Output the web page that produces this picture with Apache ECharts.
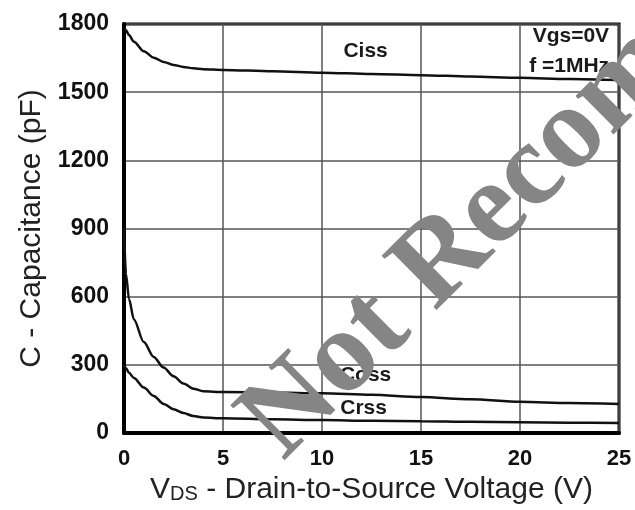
<!DOCTYPE html>
<html>
<head>
<meta charset="utf-8">
<script src="https://cdn.jsdelivr.net/npm/echarts@6/dist/echarts.min.js"></script>
<style>
  html, body { margin: 0; padding: 0; background: #fff; }
  #chart { width: 635px; height: 510px; }
</style>
</head>
<body>
<div id="chart"></div>
<script>
// values
const vds  = [0, 0.1, 0.25, 0.5, 1, 1.5, 2, 2.5, 3, 3.5, 4, 5, 7.5, 10, 12.5, 15, 17.5, 20, 22.5, 25];
const ciss = [1785, 1772, 1752, 1722, 1680, 1652, 1633, 1620, 1611, 1605, 1601, 1598, 1592, 1586, 1580, 1575, 1569, 1563, 1558, 1553];
const coss = [900, 700, 590, 500, 400, 335, 288, 250, 218, 195, 184, 180, 178, 175, 168, 158, 148, 137, 132, 128];
const crss = [300, 285, 265, 242, 200, 163, 128, 105, 88, 75, 68, 65, 60, 57, 54, 52, 49, 47, 45, 44];
const xTicks = [0, 5, 10, 15, 20, 25];
const yTicks = [0, 300, 600, 900, 1200, 1500, 1800];

const font = 'Liberation Sans';
const chart = echarts.init(document.getElementById('chart'));

const zip = function (ys) {
    return vds.map(function (x, i) { return [x, ys[i]]; });
};

// invisible point carrying a text label at data coordinates
const curveLabel = function (text, x, y, align) {
    return {
        coord: [x, y],
        symbol: 'circle',
        symbolSize: 1,
        itemStyle: { color: 'rgba(0,0,0,0)' },
        label: {
            show: true,
            formatter: text,
            position: 'inside',
            align: align || 'center',
            verticalAlign: 'middle',
            fontFamily: font,
            fontWeight: 'bold',
            fontSize: 21,
            color: '#1a1a1a'
        }
    };
};

const lineSeries = function (name, ys, labels) {
    return {
        name: name,
        type: 'line',
        data: zip(ys),
        showSymbol: false,
        smooth: 0.3,
        smoothMonotone: 'x',
        lineStyle: { color: '#111', width: 2.5 },
        markPoint: { silent: true, data: labels }
    };
};

chart.setOption({
    animation: false,
    grid: {
        left: 124, right: 16, top: 24, bottom: 77,
        show: true, borderColor: '#000', borderWidth: 3,
        outerBoundsMode: 'none'
    },
    xAxis: {
        type: 'value',
        min: xTicks[0], max: xTicks[xTicks.length - 1], interval: 5,
        name: '{v|V}{ds|DS}{v| - Drain-to-Source Voltage (V)}',
        nameLocation: 'middle',
        nameGap: 32,
        nameTextStyle: {
            rich: {
                v: { fontFamily: font, fontSize: 30, color: '#222', verticalAlign: 'bottom', lineHeight: 32 },
                ds: { fontFamily: font, fontSize: 20, color: '#222', verticalAlign: 'bottom', lineHeight: 32 }
            }
        },
        axisLine: { show: true, onZero: false, lineStyle: { color: '#000', width: 4 } },
        axisTick: { show: false },
        axisLabel: { margin: 15, fontFamily: font, fontWeight: 'bold', fontSize: 22, color: '#111' },
        splitLine: { show: true, lineStyle: { color: '#555', width: 1.5 } }
    },
    yAxis: {
        type: 'value',
        min: yTicks[0], max: yTicks[yTicks.length - 1], interval: 300,
        name: 'C - Capacitance (pF)',
        nameLocation: 'middle',
        nameGap: 72,
        nameTextStyle: { fontFamily: font, fontSize: 30, color: '#222' },
        axisLine: { show: true, onZero: false, lineStyle: { color: '#000', width: 4 } },
        axisTick: { show: false },
        axisLabel: {
            margin: 15, fontFamily: font, fontWeight: 'bold', fontSize: 23, color: '#111',
            formatter: function (v) { return String(v); }
        },
        splitLine: { show: true, lineStyle: { color: '#555', width: 1.5 } }
    },
    series: [
        lineSeries('Ciss', ciss, [
            curveLabel('Ciss', 12.2, 1681),
            curveLabel('Vgs=0V', 24.5, 1747, 'right'),
            curveLabel('f =1MHz', 24.5, 1615, 'right')
        ]),
        lineSeries('Coss', coss, [curveLabel('Coss', 12.2, 255)]),
        lineSeries('Crss', crss, [curveLabel('Crss', 12.1, 110)])
    ],
    graphic: [{
        type: 'text',
        z: 100,
        x: 303,
        y: 482,
        rotation: 0.78,
        silent: true,
        style: {
            text: 'Not Recommended',
            font: 'bold 118px "Liberation Serif"',
            fill: '#858585',
            align: 'left',
            verticalAlign: 'bottom'
        }
    }]
});
</script>
</body>
</html>
